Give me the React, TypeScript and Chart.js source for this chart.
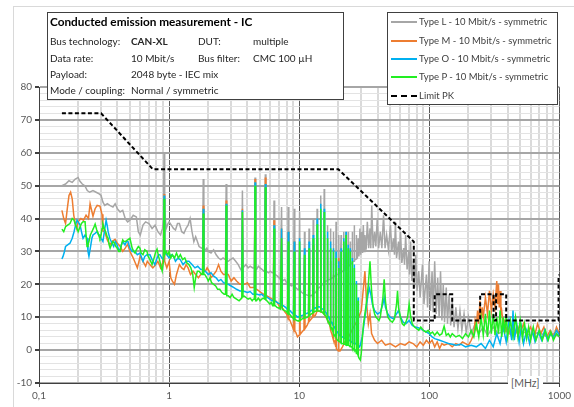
import React, { useEffect, useRef } from 'react';
import { Chart, registerables } from 'chart.js';
Chart.register(...registerables);

// ---------- axis values ----------
const xGridValues = [0.1, 0.2, 0.3, 0.4, 0.5, 0.6, 0.7, 0.8, 0.9, 1, 2, 3, 4, 5, 6, 7, 8, 9, 10, 20, 30, 40, 50, 60, 70, 80, 90, 100, 200, 300, 400, 500, 600, 700, 800, 900, 1000];
const xDecades = [0.1, 1, 10, 100, 1000];
const xDecadeLabels = ['0,1', '1', '10', '100', '1000'];
const yMin = -10;
const yMax = 80;
const yStep = 2;
const yLabelStep = 10;

// ---------- legend / info text ----------
const seriesNames = ['Type L - 10 Mbit/s - symmetric', 'Type M - 10 Mbit/s - symmetric', 'Type O - 10 Mbit/s - symmetric', 'Type P - 10 Mbit/s - symmetric'];
const limitName = 'Limit PK';
const infoTitle = 'Conducted emission measurement - IC';
const infoRows = [
  ['Bus technology:', 'CAN-XL', 'DUT:', 'multiple'],
  ['Data rate:', '10 Mbit/s', 'Bus filter:', 'CMC 100 µH'],
  ['Payload:', '2048 byte - IEC mix', '', ''],
  ['Mode / coupling:', 'Normal / symmetric', '', ''],
];
const xUnit = '[MHz]';

// ---------- limit PK ----------
const limitFreq = [0.15, 0.3, 0.75, 20, 76, 76, 110, 110, 150, 150, 246, 246, 312, 312, 326, 326, 390, 390, 985, 985, 1000];
const limitLevel = [72, 72, 55, 55, 33, 9, 9, 17, 17, 9, 9, 17, 17, 9, 9, 17, 17, 9, 9, 22, 23];

// ---------- Type L (grey) [MHz, dBµV] ----------
const typeL: number[][] = [
  [0.15, 50], [0.16, 50.5], [0.17, 51.5], [0.18, 51], [0.19, 52], [0.2, 52.5], [0.205, 51.5], [0.215, 50.5], [0.225, 50], [0.235, 48.5], [0.245, 48], [0.26, 48.5], [0.275, 48], [0.29, 47.5], [0.3, 47], [0.31, 45], [0.32, 44], [0.335, 44.5], [0.35, 44], [0.37, 43.5], [0.385, 44.5], [0.4, 43], [0.42, 42], [0.44, 42.5], [0.46, 40], [0.48, 39], [0.5, 39.5], [0.53, 41], [0.56, 40.5], [0.58, 36], [0.6, 35], [0.63, 38], [0.66, 39], [0.7, 38.5], [0.74, 37], [0.78, 38], [0.82, 36], [0.86, 35], [0.89, 37], [0.905, 40], [0.915, 60], [0.925, 42], [0.95, 37], [0.98, 38.5], [1.0, 39], [1.04, 38], [1.08, 37], [1.12, 36.5], [1.16, 38.5], [1.2, 38.5], [1.25, 36], [1.3, 35.5], [1.35, 37], [1.4, 38], [1.45, 40], [1.5, 36], [1.55, 33], [1.6, 34.5], [1.65, 33], [1.7, 31.5], [1.78, 31], [1.81, 31], [1.83, 52], [1.85, 30.5], [1.9, 30.5], [1.95, 31], [2.0, 30], [2.1, 29.5], [2.2, 30.5], [2.3, 29], [2.4, 28], [2.5, 27.5], [2.6, 28], [2.715, 27.5], [2.745, 50.5], [2.775, 27], [2.85, 27], [2.95, 27.5], [3.1, 28], [3.25, 27], [3.4, 26], [3.55, 24.5], [3.62, 25], [3.66, 48.5], [3.7, 25], [3.75, 25], [3.9, 26], [4.05, 25], [4.2, 25.5], [4.4, 25], [4.525, 25], [4.575, 52.5], [4.625, 24.5], [4.7, 24.5], [4.85, 25.5], [5.0, 25], [5.2, 24.5], [5.35, 24], [5.43, 24], [5.49, 53.5], [5.55, 24], [5.6, 24], [5.8, 23.5], [6.0, 24], [6.2, 23.5], [6.335, 23.5], [6.405, 45.5], [6.475, 23], [6.55, 23], [6.8, 22.5], [7.0, 22], [7.15, 21.5], [7.24, 21.5], [7.32, 43.5], [7.4, 21], [7.5, 21], [7.75, 21.5], [8.0, 20.5], [8.145, 20.5], [8.235, 43.5], [8.325, 20], [8.4, 20], [8.7, 19.5], [9.0, 19.8], [9.05, 19.5], [9.15, 43], [9.25, 19], [9.4, 19], [9.7, 18.5], [9.95, 18.3], [10.07, 42], [10.17, 18], [10.5, 17.5], [10.88, 17], [10.98, 36], [11.08, 17], [11.4, 16.8], [11.8, 16.5], [11.9, 37], [12.0, 16.5], [12.4, 16.5], [12.7, 17], [12.81, 40], [12.92, 17.2], [13.3, 17.5], [13.62, 18], [13.73, 43], [13.84, 18.3], [14.2, 19], [14.53, 19.3], [14.64, 47], [14.75, 19.5], [15.1, 20], [15.45, 20.3], [15.56, 49], [15.67, 20.5], [16.0, 21], [16.36, 21], [16.47, 38], [16.58, 21.2], [17.0, 21.5], [17.28, 21.5], [17.39, 37], [17.5, 21.7], [17.9, 22], [18.2, 22], [18.3, 36], [18.4, 22.2], [18.8, 22.5], [19.1, 22.5], [19.2, 39], [19.3, 22.8], [19.7, 23], [20.0, 23], [20.1, 35], [20.2, 23.2], [20.6, 23.5], [20.9, 23.5], [21.0, 35], [21.1, 23.7], [21.5, 24], [21.9, 24], [22.0, 36], [22.1, 24.2], [22.5, 24.5], [22.8, 24.5], [22.9, 36], [23.0, 24.8], [23.4, 25], [23.7, 25.2], [23.8, 36], [23.9, 25.4], [24.3, 25.7], [24.6, 26], [24.7, 33], [24.8, 26], [25.2, 26.3], [25.5, 26.5], [25.6, 36], [25.7, 26.7], [26.1, 27], [26.4, 27], [26.5, 38], [26.6, 27.3], [27.0, 27.5], [27.4, 27.7], [27.5, 35], [27.6, 28], [28, 28], [28.4, 34], [28.8, 28.5], [29.3, 37], [29.7, 29], [30.2, 36], [30.7, 29.5], [31.1, 38], [31.6, 30], [32, 35], [32.7, 30.5], [33.4, 39], [34.2, 31], [35, 37], [35.5, 31], [36.1, 44], [37, 31], [38, 36], [38.8, 31.5], [39.8, 40], [40.8, 31], [42, 36], [43.2, 31], [44.5, 41], [45.7, 31], [47, 35], [48.5, 30.5], [50.3, 38], [51.5, 30], [53, 34], [54, 29], [54.9, 39], [56, 28], [58, 33], [59, 27.5], [60.1, 36], [61.5, 26.5], [63.5, 31], [64.5, 26], [65.8, 35], [67.5, 24.5], [69.5, 30], [70.5, 23], [71.8, 33], [73.5, 21], [75.5, 27], [77, 19], [78.6, 29], [80.5, 18], [83, 24], [85, 16], [88.6, 26], [91, 14], [95, 23], [97, 13], [99.7, 27], [102, 12], [105, 24], [107, 11.5], [110, 27], [113, 11], [116, 22], [119, 10], [122, 24], [125, 9], [128, 20], [131, 8.5], [135, 19], [138, 8], [142, 17], [146, 7.5], [150, 15], [155, 7], [160, 13], [166, 6.5], [172, 12], [178, 6], [185, 11], [192, 5.5], [200, 10], [210, 5], [225, 8], [240, 5], [260, 7], [280, 4.5], [310, 7], [340, 5], [380, 6], [430, 4.5], [500, 6], [600, 4.5], [700, 5.5], [800, 4], [900, 5], [1000, 4],
];

// ---------- Type M (orange) ----------
const typeM: number[][] = [
  [0.15, 42.5], [0.155, 40], [0.16, 38.5], [0.165, 43], [0.17, 47], [0.175, 48], [0.18, 46], [0.185, 41], [0.19, 38.5], [0.195, 37], [0.2, 39], [0.21, 40], [0.22, 39.5], [0.23, 41], [0.24, 40], [0.247, 44.5], [0.26, 40.7], [0.27, 43], [0.28, 44], [0.294, 43.8], [0.305, 41.3], [0.31, 36.2], [0.32, 36], [0.335, 33.5], [0.35, 32], [0.365, 33], [0.384, 33.7], [0.4, 32.5], [0.42, 31.6], [0.44, 30], [0.46, 31], [0.48, 32.2], [0.5, 30], [0.53, 28], [0.55, 26.5], [0.57, 25], [0.6, 28.6], [0.63, 27], [0.66, 25.5], [0.68, 27], [0.71, 26], [0.75, 25], [0.79, 26], [0.82, 27], [0.86, 25], [0.89, 26.5], [0.905, 28], [0.915, 47.5], [0.925, 27], [0.96, 25], [1.0, 27], [1.03, 22], [1.06, 21], [1.1, 20], [1.14, 23], [1.2, 26], [1.25, 25], [1.3, 24.5], [1.35, 26], [1.4, 25], [1.46, 23], [1.53, 24], [1.6, 23], [1.68, 22], [1.75, 23], [1.81, 23.5], [1.83, 44], [1.85, 24], [1.9, 24], [1.96, 25], [2.03, 24], [2.1, 22], [2.2, 23], [2.3, 24], [2.4, 26], [2.5, 24], [2.62, 23], [2.715, 23], [2.745, 45.5], [2.775, 23], [2.85, 23], [3.0, 21], [3.15, 22], [3.3, 21], [3.5, 20], [3.62, 20], [3.66, 43], [3.7, 20], [3.8, 20], [4.0, 20.5], [4.2, 19], [4.4, 19], [4.525, 19], [4.575, 52], [4.625, 18.5], [4.7, 18.5], [4.9, 18], [5.1, 17.5], [5.3, 17], [5.43, 17], [5.49, 52.5], [5.55, 16.8], [5.65, 16.5], [5.9, 16], [6.2, 15.5], [6.335, 15.3], [6.405, 39.5], [6.475, 15], [6.6, 15], [6.9, 14], [7.1, 13], [7.24, 13], [7.32, 37], [7.4, 12.8], [7.5, 12.5], [7.8, 11.5], [8.0, 11], [8.145, 10], [8.235, 36], [8.325, 9.5], [8.5, 9], [8.8, 7.5], [9.0, 6.5], [9.05, 6.2], [9.15, 33], [9.25, 5.8], [9.4, 5.5], [9.7, 4], [9.97, 4.5], [10.07, 30], [10.17, 4.8], [10.5, 5.5], [10.88, 6.2], [10.98, 28], [11.08, 6.5], [11.5, 7.5], [11.8, 8.5], [11.9, 30], [12.0, 8.8], [12.4, 9.5], [12.7, 10], [12.81, 32], [12.92, 10.2], [13.3, 10.5], [13.62, 11.5], [13.73, 34], [13.84, 11.8], [14.2, 11.9], [14.53, 11.7], [14.64, 38], [14.75, 11.5], [15.1, 11.5], [15.45, 11], [15.56, 35], [15.67, 10.8], [16.0, 10], [16.36, 9.5], [16.47, 30], [16.58, 9], [16.9, 8.8], [17.28, 7], [17.39, 27], [17.5, 6], [17.8, 5], [18.2, 3.5], [18.3, 23], [18.4, 3], [18.8, 2.7], [19.1, 1], [19.2, 22], [19.3, 0.5], [19.7, 0], [20.0, -0.3], [20.1, 28], [20.2, -0.3], [20.6, -0.3], [21.5, 1], [22.6, 2.7], [24, 4], [26, 6.8], [28, 9], [30, 12], [31, 18], [32, 24], [33, 14], [34, 8], [35, 11], [36, 5], [38, 3], [40, 2], [43, 3], [46, 1.5], [50, 2], [55, 1], [60, 2], [65, 1.5], [70, 2.5], [75, 2], [80, 1], [85, 2.5], [90, 1.5], [95, 3], [100, 2], [105, 3], [110, 1], [115, 2.5], [120, 0.5], [125, 2], [130, 1.5], [140, 2], [150, 1], [160, 2], [170, 1.5], [180, 2.5], [190, 2], [200, 1.5], [210, 3], [220, 5], [225, 9], [230, 7], [235, 12], [240, 8], [245, 15], [250, 9], [255, 13], [260, 10], [270, 16], [280, 11], [290, 18], [300, 12], [310, 17], [320, 13], [330, 21], [335, 14], [340, 20], [345, 13], [350, 18], [355, 11], [360, 12], [370, 8], [380, 9], [390, 6], [400, 7], [420, 5], [440, 8], [460, 5], [480, 7], [500, 5], [530, 8], [560, 5], [600, 7], [640, 4], [680, 8], [720, 5], [760, 7], [800, 4], [850, 6], [900, 4], [950, 7], [1000, 5],
];

// ---------- Type O (blue) ----------
const typeO: number[][] = [
  [0.15, 27.7], [0.153, 28.5], [0.157, 30], [0.16, 31.5], [0.166, 32], [0.173, 32.5], [0.18, 34], [0.186, 36], [0.191, 38], [0.196, 39.5], [0.2, 39], [0.207, 38], [0.212, 36], [0.218, 34], [0.226, 35], [0.234, 34], [0.238, 30], [0.242, 28.5], [0.248, 31], [0.255, 34], [0.26, 35], [0.27, 35.5], [0.279, 36], [0.287, 35], [0.294, 35], [0.3, 34], [0.31, 33], [0.318, 36], [0.328, 39.5], [0.334, 38], [0.34, 36], [0.35, 34], [0.364, 32.5], [0.375, 31.5], [0.385, 33], [0.398, 32], [0.41, 30.5], [0.419, 30.5], [0.43, 32], [0.44, 33], [0.458, 32], [0.47, 33], [0.483, 33], [0.5, 31], [0.52, 30], [0.547, 30], [0.57, 29], [0.597, 29.5], [0.63, 27], [0.65, 28.5], [0.676, 29], [0.713, 29], [0.74, 27.5], [0.778, 26], [0.808, 28], [0.83, 29], [0.85, 29], [0.88, 28], [0.905, 27.5], [0.915, 47], [0.925, 30], [0.96, 29], [1.0, 28], [1.04, 29], [1.08, 28.5], [1.12, 27], [1.17, 28], [1.22, 27.5], [1.28, 26], [1.35, 27], [1.42, 27], [1.5, 26], [1.58, 25], [1.66, 25.5], [1.75, 24.5], [1.81, 24.5], [1.83, 43], [1.85, 24], [1.9, 24], [2.0, 23], [2.1, 23.5], [2.2, 22.5], [2.3, 22], [2.4, 21], [2.5, 21.5], [2.62, 20.5], [2.715, 20.3], [2.745, 44.5], [2.775, 20], [2.85, 20], [3.0, 19.5], [3.15, 19], [3.3, 18.5], [3.5, 18], [3.62, 18], [3.66, 42.5], [3.7, 17.8], [3.8, 17.8], [4.0, 17.5], [4.2, 17.8], [4.4, 17], [4.525, 17], [4.575, 51], [4.625, 17], [4.75, 17], [4.95, 16.8], [5.15, 17], [5.3, 16.5], [5.43, 16.3], [5.49, 50.5], [5.55, 16.2], [5.7, 16], [5.95, 15.5], [6.2, 15], [6.335, 15], [6.405, 38], [6.475, 14.8], [6.6, 14.8], [6.9, 14.3], [7.15, 14], [7.24, 13.8], [7.32, 37], [7.4, 13.6], [7.55, 13.5], [7.85, 13], [8.05, 12.5], [8.145, 12.3], [8.235, 36], [8.325, 12.2], [8.5, 12], [8.8, 11.3], [9.0, 11], [9.05, 10.8], [9.15, 33], [9.25, 10.7], [9.45, 10.5], [9.8, 10], [9.97, 10.2], [10.07, 34], [10.17, 10.3], [10.5, 10.5], [10.88, 10.8], [10.98, 31], [11.08, 11], [11.5, 11.2], [11.8, 11.4], [11.9, 33], [12.0, 11.6], [12.4, 12], [12.7, 12.3], [12.81, 35], [12.92, 12.5], [13.3, 12.8], [13.62, 13], [13.73, 40], [13.84, 13.1], [14.2, 13.2], [14.53, 13], [14.64, 44.5], [14.75, 12.8], [15.1, 12.5], [15.45, 12.2], [15.56, 43], [15.67, 12], [16.0, 11.5], [16.36, 10.8], [16.47, 36], [16.58, 10.5], [16.9, 10], [17.28, 9], [17.39, 33], [17.5, 8.7], [17.8, 8.5], [18.2, 7.5], [18.3, 31], [18.4, 7.2], [18.8, 7], [19.1, 6], [19.2, 30], [19.3, 5.8], [19.7, 5.5], [20.0, 5], [20.1, 27], [20.2, 4.8], [20.6, 4.5], [20.9, 4.2], [21.0, 31], [21.1, 4.1], [21.5, 4], [21.9, 3.8], [22.0, 34], [22.1, 3.7], [22.5, 3.5], [22.8, 3.3], [22.9, 36], [23.0, 3.2], [23.4, 3], [23.7, 3], [23.8, 32], [23.9, 3], [24.3, 3], [24.6, 2.8], [24.7, 31], [24.8, 2.7], [25.2, 2.5], [25.5, 2.3], [25.6, 28], [25.7, 2.2], [26.1, 2], [26.4, 2], [26.5, 26], [26.6, 2], [27.0, 2], [27.4, 1.8], [27.5, 21], [27.6, 1.7], [28.0, 1.5], [28.3, 1.3], [28.4, 16], [28.5, 1.2], [29, 1], [29.5, 1.5], [30.5, 4], [31.5, 8], [32.5, 12], [33.5, 15.8], [34.5, 19], [35.5, 17], [36.5, 14], [38, 12], [40, 11], [42, 11.5], [44, 14], [45, 16], [46, 13], [48, 11], [50, 10], [53, 9.5], [56, 11], [58, 12], [60, 10], [63, 8.5], [66, 8], [70, 9], [74, 7.5], [78, 7], [82, 6.8], [86, 6.5], [90, 6], [95, 5.5], [100, 5], [105, 4], [110, 3.5], [120, 3], [130, 2.5], [140, 2], [150, 1.8], [160, 1.5], [175, 1.8], [190, 1], [210, 1.5], [230, 1], [250, 2], [270, 0.5], [290, 3], [310, 1], [330, 5], [350, 2], [370, 7], [390, 2.5], [410, 9], [430, 3], [440, 12], [450, 3], [470, 8], [490, 2.5], [510, 7], [530, 2], [560, 6], [590, 2], [620, 6], [650, 2.5], [690, 5.5], [730, 3], [770, 6], [810, 3], [850, 5], [900, 4], [950, 6], [1000, 4.5],
];

// ---------- Type P (green) ----------
const typeP: number[][] = [
  [0.15, 36.8], [0.155, 36], [0.16, 37.5], [0.166, 38], [0.173, 38.5], [0.18, 40], [0.186, 39.5], [0.191, 38], [0.196, 37], [0.2, 36], [0.207, 37.5], [0.212, 38.5], [0.218, 39], [0.226, 39], [0.23, 35], [0.234, 31.5], [0.238, 32], [0.242, 33], [0.248, 35], [0.255, 36], [0.262, 37], [0.27, 38.3], [0.278, 36.5], [0.285, 35.5], [0.29, 34.5], [0.294, 34], [0.3, 35], [0.305, 37], [0.31, 38.3], [0.318, 37], [0.328, 35.6], [0.334, 34.5], [0.34, 34], [0.346, 32], [0.352, 31], [0.36, 32], [0.37, 33], [0.38, 32.5], [0.39, 31.5], [0.4, 31], [0.41, 30], [0.42, 30], [0.43, 32], [0.44, 33.5], [0.45, 33], [0.46, 33], [0.48, 33.5], [0.5, 34], [0.51, 32.5], [0.52, 31], [0.535, 30], [0.547, 29.5], [0.56, 30.5], [0.58, 31.5], [0.597, 31], [0.61, 29.5], [0.63, 29], [0.65, 30.5], [0.676, 30], [0.69, 28.5], [0.713, 27.5], [0.74, 26], [0.76, 27.5], [0.778, 29], [0.79, 30], [0.808, 30.7], [0.83, 28.5], [0.85, 27], [0.87, 25], [0.885, 24], [0.905, 27], [0.915, 46], [0.925, 29], [0.95, 30], [0.98, 29], [1.0, 30], [1.03, 28], [1.06, 29], [1.1, 28], [1.14, 29.5], [1.18, 28], [1.22, 29], [1.27, 27.5], [1.32, 28], [1.37, 26.5], [1.42, 26], [1.47, 25], [1.52, 23], [1.56, 19], [1.6, 22], [1.65, 24], [1.7, 24], [1.78, 23], [1.81, 23], [1.83, 41.5], [1.85, 23], [1.88, 23], [1.95, 22], [2.0, 21], [2.06, 22], [2.12, 20.5], [2.2, 20], [2.28, 19.5], [2.36, 18.5], [2.45, 18.5], [2.55, 17.5], [2.65, 17], [2.715, 17], [2.745, 44], [2.775, 16.5], [2.85, 16.5], [2.95, 16], [3.05, 17], [3.15, 16], [3.3, 15.5], [3.45, 15], [3.55, 15.5], [3.62, 15.8], [3.66, 42], [3.7, 16.2], [3.78, 16.4], [3.9, 16], [4.05, 15.5], [4.2, 15.8], [4.35, 15], [4.45, 15.5], [4.525, 15.5], [4.575, 50], [4.625, 15], [4.7, 15], [4.85, 15.8], [5.0, 15], [5.15, 15.5], [5.3, 15.8], [5.43, 15.5], [5.49, 49.5], [5.55, 15.2], [5.65, 15], [5.8, 14.5], [5.95, 14], [6.1, 14.5], [6.25, 13.5], [6.335, 13.5], [6.405, 37], [6.475, 13.5], [6.55, 13.5], [6.75, 13], [6.95, 12.8], [7.15, 12.5], [7.24, 12.5], [7.32, 34], [7.4, 12.5], [7.5, 12.5], [7.7, 12], [7.9, 11.9], [8.05, 11.5], [8.145, 11.2], [8.235, 33], [8.325, 11], [8.4, 11], [8.6, 10.5], [8.8, 10], [9.0, 9.7], [9.05, 9.5], [9.15, 30], [9.25, 9.4], [9.35, 9.3], [9.6, 9], [9.85, 8.8], [9.97, 9], [10.07, 33], [10.17, 9], [10.5, 9.5], [10.88, 9.6], [10.98, 29], [11.08, 9.8], [11.5, 10], [11.8, 10.2], [11.9, 31], [12.0, 10.5], [12.4, 11], [12.7, 11.2], [12.81, 34], [12.92, 11.5], [13.3, 11.8], [13.62, 11.9], [13.73, 38.3], [13.84, 12], [14.2, 11.9], [14.53, 11.8], [14.64, 43], [14.75, 11.6], [15.1, 11.5], [15.45, 11], [15.56, 42], [15.67, 10.8], [16.0, 10.5], [16.36, 9.5], [16.47, 34], [16.58, 9], [16.9, 8.5], [17.28, 7.5], [17.39, 31], [17.5, 7], [17.8, 6.8], [18.2, 5.5], [18.3, 30], [18.4, 5], [18.7, 4.5], [19.1, 4], [19.2, 28], [19.3, 3.5], [19.7, 3], [20.0, 2.8], [20.1, 25], [20.2, 2.7], [20.6, 2.5], [20.9, 2.2], [21.0, 30], [21.1, 2], [21.5, 2], [21.9, 1.9], [22.0, 33], [22.1, 1.8], [22.5, 1.8], [22.8, 1.6], [22.9, 35], [23.0, 1.5], [23.4, 1.5], [23.7, 1.5], [23.8, 31], [23.9, 1.5], [24.3, 1.3], [24.6, 1], [24.7, 30], [24.8, 1], [25.2, 1], [25.5, 0.8], [25.6, 27], [25.7, 0.5], [26.1, 0.5], [26.4, 0.2], [26.5, 25], [26.6, 0], [27.0, 0], [27.4, -0.5], [27.5, 20], [27.6, -1], [28.0, -1], [28.3, -1.5], [28.4, 15], [28.5, -2], [28.9, -2.5], [29.5, -3], [30.0, -1], [30.5, 3], [31.2, 8], [32, 11], [33, 15], [34, 20], [35, 27], [36, 18], [37, 13], [38, 11], [39, 10], [40, 9.5], [41, 9], [42, 10], [43, 13], [44, 16], [45, 21.5], [46, 15], [47, 12], [48, 10], [50, 9], [52, 8.5], [54, 9.5], [56, 14], [57, 18], [58, 13], [60, 10], [62, 8], [64, 7.5], [66, 8.5], [68, 10], [70, 14], [72, 10], [74, 8], [77, 7], [80, 6.5], [83, 6], [86, 7], [90, 6], [94, 5.5], [98, 6], [102, 5], [106, 5.5], [110, 4.5], [115, 5.5], [120, 4.5], [125, 5], [130, 7.3], [135, 4.5], [140, 5], [145, 4], [150, 5], [160, 4], [170, 4.5], [180, 3.5], [190, 5], [200, 4], [210, 6], [220, 4], [230, 8], [240, 4], [250, 10], [260, 4.5], [270, 11], [280, 4], [290, 12], [300, 5], [310, 11], [320, 4.5], [330, 10], [340, 5], [350, 12], [360, 4], [370, 10], [380, 5], [390, 11], [400, 4], [420, 9], [440, 4], [460, 10], [480, 4], [500, 9], [520, 3.5], [540, 8], [560, 3.5], [580, 7], [600, 3], [630, 7], [660, 3], [700, 6], [740, 3], [780, 6], [820, 3], [860, 5.5], [900, 3], [950, 5], [1000, 4],
];

const seriesColors = ['#a6a6a6', '#ed7d31', '#00b0f0', '#22ee22'];
const FONT = 'Lato, "Liberation Sans", sans-serif';

const toXY = (arr: number[][]) => arr.map(([x, y]) => ({ x, y }));
const isDecade = (v: number) => xDecades.some((d) => Math.abs(v / d - 1) < 1e-6);

export default function App() {
  const ref = useRef<HTMLCanvasElement | null>(null);

  useEffect(() => {
    if (!ref.current) return;
    const yTicks: number[] = [];
    for (let v = yMin; v <= yMax; v += yStep) yTicks.push(v);
    const seriesData = [typeL, typeM, typeO, typeP];
    const chart = new Chart(ref.current, {
      type: 'line',
      data: {
        datasets: [
          {
            label: limitName,
            data: limitFreq.map((f, i) => ({ x: f, y: limitLevel[i] })),
            borderColor: '#000000',
            borderWidth: 2,
            borderDash: [4, 2.5],
            pointRadius: 0,
            order: 0,
          },
          ...[3, 2, 1, 0].map((k, idx) => ({
            label: seriesNames[k],
            data: toXY(seriesData[k]),
            borderColor: seriesColors[k],
            borderWidth: 1.5,
            pointRadius: 0,
            order: idx + 1,
          })),
        ],
      },
      options: {
        animation: false,
        responsive: false,
        maintainAspectRatio: false,
        devicePixelRatio: 1,
        layout: { padding: { top: 87, right: 14, bottom: 0, left: 0 } },
        plugins: { legend: { display: false }, tooltip: { enabled: false } },
        elements: { line: { tension: 0 } },
        scales: {
          x: {
            type: 'logarithmic',
            min: 0.1,
            max: 1000,
            afterBuildTicks: (s: any) => {
              s.ticks = xGridValues.map((v) => ({ value: v }));
            },
            afterFit: (s: any) => {
              s.height = 24;
            },
            ticks: {
              autoSkip: false,
              maxRotation: 0,
              padding: 3,
              color: '#595959',
              font: { family: FONT, size: 10 },
              callback: (v: any) => {
                const i = xDecades.findIndex((d) => Math.abs(Number(v) / d - 1) < 1e-6);
                return i >= 0 ? xDecadeLabels[i] : '';
              },
            },
            grid: {
              color: (c: any) => (c.tick && isDecade(c.tick.value) ? '#595959' : '#dadada'),
              lineWidth: (c: any) => (c.tick && isDecade(c.tick.value) ? 1 : 2),
              tickColor: (c: any) => (c.tick && isDecade(c.tick.value) ? '#404040' : 'rgba(0,0,0,0)'),
              tickLength: 4,
            },
            border: { color: '#404040', width: 1 },
          },
          y: {
            type: 'linear',
            min: yMin,
            max: yMax,
            afterBuildTicks: (s: any) => {
              s.ticks = yTicks.map((v) => ({ value: v }));
            },
            afterFit: (s: any) => {
              s.width = 39;
            },
            ticks: {
              autoSkip: false,
              stepSize: yStep,
              padding: 3,
              color: '#595959',
              font: { family: FONT, size: 10 },
              callback: (v: any) => (Number(v) % yLabelStep === 0 ? String(v) : ''),
            },
            grid: {
              color: (c: any) => (c.tick && c.tick.value % yLabelStep === 0 ? '#a6a6a6' : '#e3e3e3'),
              lineWidth: (c: any) => (c.tick && c.tick.value % yLabelStep === 0 ? 2 : 1),
              tickColor: (c: any) => (c.tick && c.tick.value % yLabelStep === 0 ? '#404040' : 'rgba(0,0,0,0)'),
              tickLength: 4,
            },
            border: { color: '#404040', width: 1 },
          },
        },
      } as any,
    });
    return () => chart.destroy();
  }, []);

  const abs = (s: React.CSSProperties): React.CSSProperties => ({ position: 'absolute', whiteSpace: 'nowrap', ...s });
  const rowY = [41, 57.5, 74, 90];
  const colX = [50, 131, 198, 253];
  const legendY = [22, 40.5, 58.5, 77, 96];

  return (
    <div style={{ position: 'fixed', left: 0, top: 0, width: 574, height: 407, background: '#fff', overflow: 'hidden', fontFamily: FONT }}>
      <div style={abs({ left: 13, top: 6, width: 600, height: 500, border: '1px solid #d9d9d9' })} />
      <canvas ref={ref} width={574} height={407} style={{ position: 'absolute', left: 0, top: 0, width: 574, height: 407 }} />
      {/* info box */}
      <div style={abs({ left: 47, top: 12, width: 295, height: 86, border: '1px solid #404040', background: '#fff' })} />
      <div style={abs({ left: 50, top: 22 - 8, lineHeight: '16px', fontSize: 11.8, fontWeight: 700, color: '#000' })}>{infoTitle}</div>
      {infoRows.map((row, r) =>
        row.map((t, c) =>
          t ? (
            <div key={r + '-' + c} style={abs({ left: colX[c], top: rowY[r] - 7, lineHeight: '14px', fontSize: 10, color: '#262626', fontWeight: r === 0 && c === 1 ? 700 : 400 })}>
              {t}
            </div>
          ) : null
        )
      )}
      {/* legend */}
      <div style={abs({ left: 387, top: 12, width: 169, height: 91, border: '1px solid #404040', background: '#fff' })} />
      {seriesNames.map((n, i) => (
        <React.Fragment key={n}>
          <div style={abs({ left: 391, top: legendY[i] - 1, width: 26, height: 2, background: seriesColors[i] })} />
          <div style={abs({ left: 419, top: legendY[i] - 7, lineHeight: '14px', fontSize: 9.5, color: '#404040' })}>{n}</div>
        </React.Fragment>
      ))}
      <div style={abs({ left: 391, top: legendY[4] - 1.5, width: 26, height: 0, borderTop: '2.5px dashed #000' })} />
      <div style={abs({ left: 419, top: legendY[4] - 7, lineHeight: '14px', fontSize: 9.5, color: '#404040' })}>{limitName}</div>
      {/* unit label */}
      <div style={abs({ left: 508, top: 376, lineHeight: '14px', fontSize: 10.5, color: '#595959', background: '#fff', padding: '0 3px' })}>{xUnit}</div>
    </div>
  );
}
